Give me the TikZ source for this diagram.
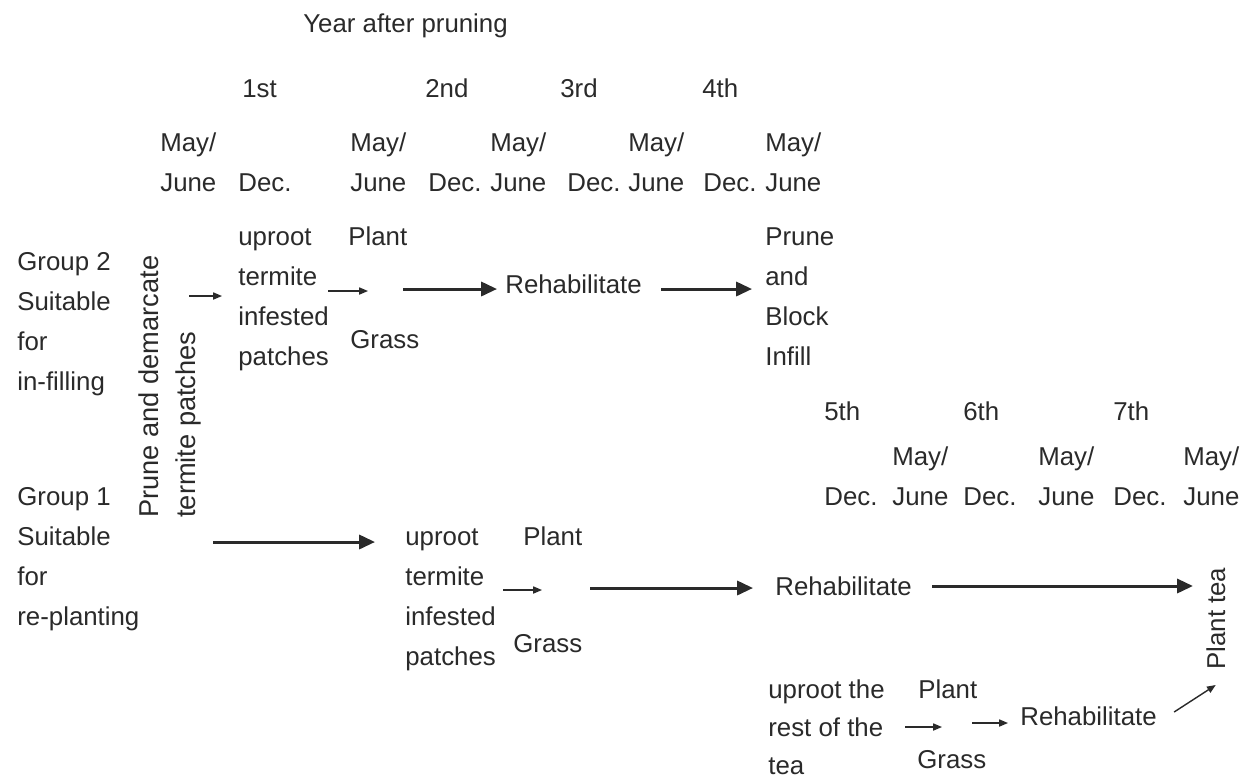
\documentclass[tikz,border=0pt]{standalone}
\usepackage{fontspec}
\setmainfont{Liberation Sans}
\usepackage{xcolor}
\usepackage{tikz}
\usetikzlibrary{positioning,calc}
\usetikzlibrary{arrows.meta}
\definecolor{ink}{HTML}{2A2A2A}

\begin{document}
\begin{tikzpicture}[x=0.02cm,y=-0.02cm,
    every node/.style={inner sep=0pt,anchor=base west,text=ink,align=left,font=\fontsize{14.7}{22.76}\selectfont},
    thinarr/.style={draw=ink,line width=0.8pt,-{Triangle[length=5pt,width=4pt]}},
    thickarr/.style={draw=ink,line width=1.7pt,-{Triangle[length=9pt,width=8pt]}}]
    \useasboundingbox[fill=white] (0,0) rectangle (1243,779);
    % time axis, years 1 to 4 (multi-line nodes sit on their last line)
    \node (T) at (303,32) {Year after pruning};
    \node (Y1) at (242,97) {1st};
    \node (Y2) at (425,97) {2nd};
    \node (Y3) at (560,97) {3rd};
    \node (Y4) at (702,97) {4th};
    \node (M1) at (160,191) {May/\\June};
    \node (D1) at (238,191) {Dec.};
    \node (M2) at (350,191) {May/\\June};
    \node (D2) at (428,191) {Dec.};
    \node (M3) at (490,191) {May/\\June};
    \node (D3) at (567,191) {Dec.};
    \node (M4) at (628,191) {May/\\June};
    \node (D4) at (703,191) {Dec.};
    \node (M5) at (765,191) {May/\\June};
    % years 5 to 7
    \node (Y5) at (824,420) {5th};
    \node (Y6) at (963,420) {6th};
    \node (Y7) at (1113,420) {7th};
    \node (D5) at (824,505) {Dec.};
    \node (M6) at (892,505) {May/\\June};
    \node (D6) at (963,505) {Dec.};
    \node (M7) at (1038,505) {May/\\June};
    \node (D7) at (1113,505) {Dec.};
    \node (M8) at (1183,505) {May/\\June};
    % groups
    \node (G2) at (17,390) {Group 2\\Suitable\\for\\in-filling};
    \node (G1) at (17,625) {Group 1\\Suitable\\for\\re-planting};
    \node[rotate=90,font=\fontsize{15.5}{21}\selectfont] (PD) at (195,518) {Prune and demarcate\\termite patches};
    % group 2 row
    \node (U2) at (238,365) {uproot\\termite\\infested\\patches};
    \node (P2) at (348,245) {Plant};
    \node (Gr2) at (350,348) {Grass};
    \node (R2) at (505,293) {Rehabilitate};
    \node (B2) at (765,365) {Prune\\and\\Block\\Infill};
    % group 1 row
    \node (U1) at (405,665) {uproot\\termite\\infested\\patches};
    \node (P1) at (523,545) {Plant};
    \node (Gr1) at (513,652) {Grass};
    \node (R1) at (775,595) {Rehabilitate};
    \node[rotate=90] (PT) at (1225,670) {Plant tea};
    \node[font=\fontsize{14.7}{21.6}\selectfont] (U3) at (768,774) {uproot the\\rest of the\\tea};
    \node (P3) at (918,698) {Plant};
    \node (Gr3) at (917,768) {Grass};
    \node (R3) at (1020,725) {Rehabilitate};

    \draw[thinarr] ($(PD.south |- 0,296)+(-12,0)$) -- ($(U2.west |- 0,296)+(-16,0)$);
    \draw[thinarr] ($(U2.west |- 0,291)+(90,0)$) -- ($(P2.west |- 0,291)+(20,0)$);
    \draw[thickarr] ($(P2.west |- 0,289)+(55,0)$) -- ($(R2.west |- 0,289)+(-8,0)$);
    \draw[thickarr] ($(R2.east |- 0,289)+(19,0)$) -- ($(B2.west |- 0,289)+(-13,0)$);
    \draw[thickarr] ($(PD.south |- 0,542)+(12,0)$) -- ($(U1.west |- 0,542)+(-30,0)$);
    \draw[thinarr] ($(U1.east |- 0,590)+(7,0)$) -- ($(P1.west |- 0,590)+(19,0)$);
    \draw[thickarr] ($(P1.west |- 0,588)+(67,0)$) -- ($(R1.west |- 0,588)+(-22,0)$);
    \draw[thickarr] ($(R1.east |- 0,586)+(20,0)$) -- ($(PT.north |- 0,586)+(-13,0)$);
    \draw[thinarr] ($(U3.east |- 0,727)+(20,0)$) -- ($(P3.west |- 0,727)+(24,0)$);
    \draw[thinarr] ($(P3.west |- 0,723)+(54,0)$) -- ($(R3.west |- 0,723)+(-12,0)$);
    \draw[thinarr] ($(R3.east |- 0,712)+(17,0)$) -- ($(PT.west)+(0,15)$);
\end{tikzpicture}
\end{document}
